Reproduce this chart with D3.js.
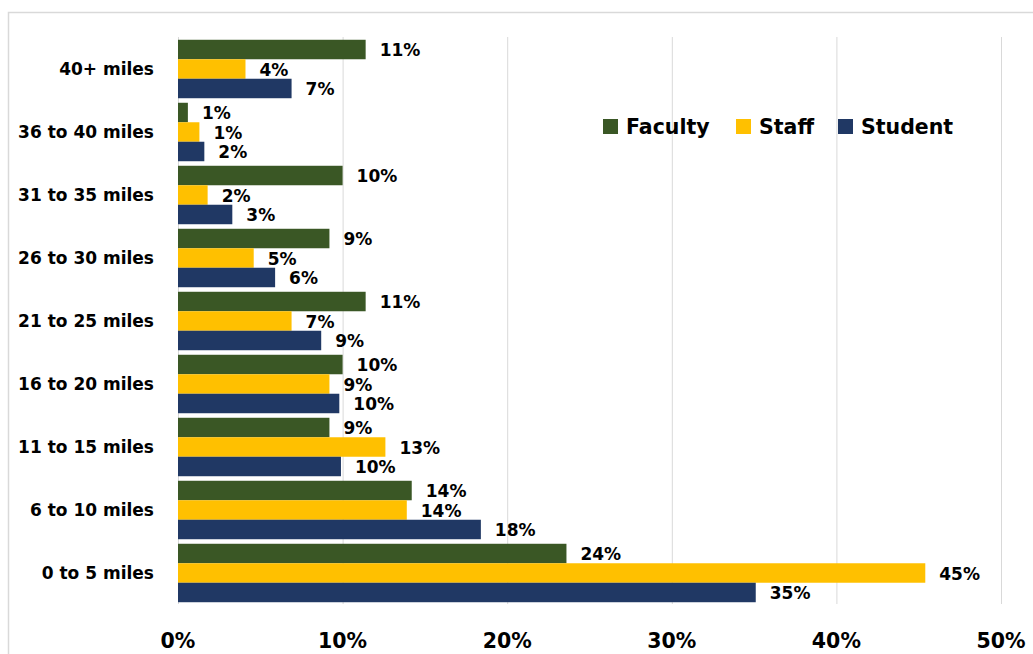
<!DOCTYPE html>
<html>
<head>
<meta charset="utf-8">
<script src="https://cdn.jsdelivr.net/npm/d3@7"></script>
<style>
  body { margin: 0; background: #fff; }
  text { font-family: "DejaVu Sans", Verdana, sans-serif; font-weight: bold; fill: #000; }
</style>
</head>
<body>
<script>
//data
var categories = ["40+ miles", "36 to 40 miles", "31 to 35 miles", "26 to 30 miles", "21 to 25 miles",
    "16 to 20 miles", "11 to 15 miles", "6 to 10 miles", "0 to 5 miles"];
var seriesNames = ["Faculty", "Staff", "Student"];
var faculty = [11.4, 0.6, 10.0, 9.2, 11.4, 10.0, 9.2, 14.2, 23.6];
var staff = [4.1, 1.3, 1.8, 4.6, 6.9, 9.2, 12.6, 13.9, 45.4];
var student = [6.9, 1.6, 3.3, 5.9, 8.7, 9.8, 9.9, 18.4, 35.1];
var tickValues = [0, 10, 20, 30, 40, 50];
var colors = ["#3a5725", "#ffc000", "#203864"];

var W = 1033, H = 654;
var seriesValues = [faculty, staff, student];

var svg = d3.select("body").append("svg")
    .attr("width", W)
    .attr("height", H);

// outer chart border (runs off the right / bottom)
svg.append("rect")
    .attr("x", 8.5).attr("y", 12.5)
    .attr("width", W + 20).attr("height", H + 20)
    .attr("fill", "none")
    .attr("stroke", "#d9d9d9")
    .attr("stroke-width", 1.5);

//scales
var x = d3.scaleLinear().domain([0, 50]).range([178, 1001]);
var y = d3.scaleBand().domain(categories).range([37.5, 604.5])
    .paddingInner(0.072).paddingOuter(0.036);
var y1 = d3.scaleBand().domain(seriesNames).range([0, y.bandwidth()]);

// gridlines
svg.append("g").selectAll("line")
    .data(tickValues)
    .enter().append("line")
    .attr("x1", function (d) { return x(d) + 0.5; })
    .attr("x2", function (d) { return x(d) + 0.5; })
    .attr("y1", 37)
    .attr("y2", 604)
    .attr("stroke", "#d9d9d9")
    .attr("stroke-width", 1);

// tick labels
svg.append("g").selectAll("text")
    .data(tickValues)
    .enter().append("text")
    .text(function (d) { return d + "%"; })
    .attr("x", function (d) { return x(d); })
    .attr("y", 648)
    .attr("text-anchor", "middle")
    .style("font-size", "20.5px");

// category labels
svg.append("g").selectAll("text")
    .data(categories)
    .enter().append("text")
    .text(function (d) { return d; })
    .attr("x", 154)
    .attr("y", function (d) { return y(d) + y.bandwidth() / 2; })
    .attr("dy", "0.36em")
    .attr("text-anchor", "end")
    .style("font-size", "17px");

// bars + value labels
var groups = svg.append("g").selectAll("g")
    .data(seriesNames)
    .enter().append("g");

groups.each(function (name, si) {
    var g = d3.select(this);
    var vals = seriesValues[si];
    g.selectAll("rect")
        .data(vals)
        .enter().append("rect")
        .attr("x", x(0))
        .attr("y", function (d, i) { return y(categories[i]) + y1(name); })
        .attr("width", function (d) { return x(d) - x(0); })
        .attr("height", y1.bandwidth())
        .attr("fill", colors[si]);
    g.selectAll("text")
        .data(vals)
        .enter().append("text")
        .text(function (d) { return Math.round(d) + "%"; })
        .attr("x", function (d) { return x(d) + 14; })
        .attr("y", function (d, i) { return y(categories[i]) + y1(name) + y1.bandwidth() / 2; })
        .attr("dy", "0.4em")
        .style("font-size", "17px");
});

// legend
var legendX = [603, 736, 838];
var legend = svg.append("g").selectAll("g")
    .data(seriesNames)
    .enter().append("g")
    .attr("transform", function (d, i) { return "translate(" + legendX[i] + ",119)"; });
legend.append("rect")
    .attr("width", 15).attr("height", 15)
    .attr("fill", function (d, i) { return colors[i]; });
legend.append("text")
    .text(function (d) { return d; })
    .attr("x", 23)
    .attr("y", 14.5)
    .style("font-size", "20.5px");
</script>
</body>
</html>
